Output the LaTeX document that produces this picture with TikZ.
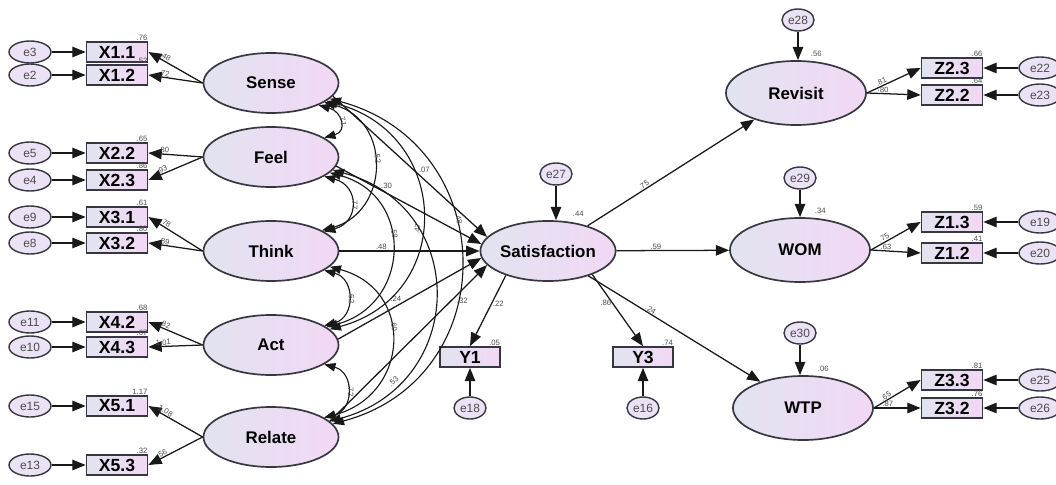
\documentclass[tikz,border=0pt]{standalone}
\usepackage{fontspec}
\setmainfont{Liberation Sans}
\usetikzlibrary{
    arrows.meta,
    shapes.geometric
}

\definecolor{lvleft}{RGB}{226,227,240}
\definecolor{lvright}{RGB}{242,216,245}
\definecolor{errfill}{RGB}{236,226,246}
\definecolor{edgec}{RGB}{55,55,66}

\tikzset{
    latent/.style={ellipse, draw=edgec, line width=1.2pt, inner sep=0pt,
        minimum width=3.375cm, minimum height=1.5cm,
        left color=lvleft, right color=lvright,
        font=\bfseries\fontsize{12}{13}\selectfont},
    obs/.style={rectangle, draw=edgec, line width=1.2pt, inner sep=0pt,
        minimum width=1.525cm, minimum height=0.5cm,
        left color=lvleft, right color=lvright,
        font=\bfseries\fontsize{12.5}{13}\selectfont},
    err/.style={ellipse, draw=edgec, line width=1pt, inner sep=0pt,
        minimum width=1.05cm, minimum height=0.55cm, fill=errfill,
        text=black!70, font=\fontsize{8.5}{9}\selectfont},
    reg/.style={draw=black!90, line width=0.9pt,
        -{Triangle[length=9.5pt,width=7.5pt]}},
    cov/.style={draw=black!90, line width=0.8pt,
        {Triangle[length=8pt,width=6pt]}-{Triangle[length=8pt,width=6pt]}},
    est/.style={inner sep=0.5pt, text=black!70, font=\fontsize{5.5}{6}\selectfont}
}

\begin{document}
\begin{tikzpicture}[x=0.025cm,y=-0.025cm]

\useasboundingbox (0,0) rectangle (1056,485);

% Experience dimensions
\node[latent] (sense)  at (271,83)  {Sense};
\node[latent] (feel)   at (271,157) {Feel};
\node[latent] (think)  at (271,251) {Think};
\node[latent] (act)    at (271,345) {Act};
\node[latent] (relate) at (271,437) {Relate};

% Mediator and outcomes
\node[latent, minimum width=3.25cm] (sat) at (548,251) {Satisfaction};
\node[latent, minimum width=3.5cm, minimum height=1.6cm] (revisit) at (796,93)  {Revisit};
\node[latent, minimum width=3.5cm, minimum height=1.6cm] (wom)     at (800,250) {WOM};
\node[latent, minimum width=3.5cm, minimum height=1.6cm] (wtp)     at (803,408) {WTP};

% Left indicators
\foreach \nm/\txt/\en/\y/\lv/\ldg/\rs in {
    x11/X1.1/e3/52/sense/.48/.76,
    x12/X1.2/e2/75/sense/.72/.52,
    x22/X2.2/e5/153/feel/.80/.65,
    x23/X2.3/e4/180/feel/.93/.86,
    x31/X3.1/e9/217/think/.78/.61,
    x32/X3.2/e8/243/think/.89/.80,
    x42/X4.2/e11/322/act/.82/.68,
    x43/X4.3/e10/347/act/1.01/.67,
    x51/X5.1/e15/406/relate/1.08/1.17,
    x53/X5.3/e13/465/relate/.56/.32}{
    \node[obs] (\nm) at (117,\y) {\txt};
    \node[err] (\en) at (30,\y) {\en};
    \draw[reg] (\en) -- (\nm);
    \draw[reg] (\lv.west) -- (\nm.east) node[est, pos=0.72, above, sloped] {\ldg};
    \node[est, anchor=south east] at (\nm.north east) {\rs};
}

% Right indicators
\foreach \nm/\txt/\en/\y/\lv/\ldg/\rs in {
    z23/Z2.3/e22/68/revisit/.81/.66,
    z22/Z2.2/e23/95/revisit/.80/.64,
    z13/Z1.3/e19/222/wom/.75/.59,
    z12/Z1.2/e20/253/wom/.63/.41,
    z33/Z3.3/e25/380/wtp/.65/.81,
    z32/Z3.2/e26/408/wtp/.87/.76}{
    \node[obs] (\nm) at (952,\y) {\txt};
    \node[err] (\en) at (1040,\y) {\en};
    \draw[reg] (\en) -- (\nm);
    \draw[reg] (\lv.east) -- (\nm.west) node[est, pos=0.3, above, sloped] {\ldg};
    \node[est, anchor=south east] at (\nm.north east) {\rs};
}

% Satisfaction indicators
\node[obs, minimum width=1.5cm] (y1) at (470,357) {Y1};
\node[obs, minimum width=1.5cm] (y3) at (643,357) {Y3};
\node[err, minimum width=0.8cm] (e18) at (470,408) {e18};
\node[err, minimum width=0.8cm] (e16) at (643,408) {e16};
\draw[reg] (e18) -- (y1);
\draw[reg] (e16) -- (y3);
\draw[reg] (sat.210) -- (y1.north) node[est, pos=0.4, right] {.22};
\draw[reg] (sat.-28) -- (y3.north) node[est, pos=0.4, left] {.86};
\node[est, anchor=south east] at (y1.north east) {.05};
\node[est, anchor=south east] at (y3.north east) {.74};

% Disturbances
\node[err, minimum width=0.8cm] (e27) at (556,174) {e27};
\node[err, minimum width=0.8cm] (e28) at (798,20)  {e28};
\node[err, minimum width=0.8cm] (e29) at (800,178) {e29};
\node[err, minimum width=0.8cm] (e30) at (800,333) {e30};
\draw[reg] (e27) -- (e27 |- sat.north);
\draw[reg] (e28) -- (e28 |- revisit.north);
\draw[reg] (e29) -- (e29 |- wom.north);
\draw[reg] (e30) -- (e30 |- wtp.north);
\node[est, anchor=south west] at ([shift={(24,-3)}]sat.north) {.44};
\node[est, anchor=south west] at ([shift={(14,-3)}]revisit.north) {.56};
\node[est, anchor=south west] at ([shift={(14,-3)}]wom.north) {.34};
\node[est, anchor=south west] at ([shift={(14,-3)}]wtp.north) {.06};

% Structural paths
\draw[reg] (sense.-12)  -- (sat.167) node[est, pos=0.55, above right] {.07};
\draw[reg] (feel.-8)    -- (sat.174) node[est, pos=0.3, above right] {.30};
\draw[reg] (think.east) -- (sat.west) node[est, pos=0.3, above] {.48};
\draw[reg] (act.5)      -- (sat.186) node[est, pos=0.45, above left] {.24};
\draw[reg] (relate.15)  -- (sat.193) node[est, pos=0.8, below right] {.32};
\draw[reg] (sat) -- (revisit) node[est, pos=0.35, above, sloped] {.75};
\draw[reg] (sat) -- (wom) node[est, pos=0.35, above] {.59};
\draw[reg] (sat) -- (wtp) node[est, pos=0.35, above, sloped] {.24};

% Covariances
\foreach \a/\b/\oa/\ob/\L/\p/\r in {
    sense/feel/-25/20/1.9/0.5/.71,
    feel/think/-20/20/1.7/0.5/.77,
    think/act/-20/20/1.5/0.5/.62,
    act/relate/-20/20/1.5/0.5/.72,
    sense/think/-20/22/1.4/0.45/.52,
    feel/act/-15/18/1.45/0.42/.58,
    think/relate/-15/20/1.5/0.42/.60,
    sense/act/-18/15/1.45/0.55/.47,
    feel/relate/-12/15/1.45/0.8/.53,
    sense/relate/-15/12/1.4/0.4/.48}
    \draw[cov] (\a.\oa) to[out=-15, in=15, looseness=\L]
        node[est, pos=\p, above, sloped] {\r} (\b.\ob);

\end{tikzpicture}
\end{document}
